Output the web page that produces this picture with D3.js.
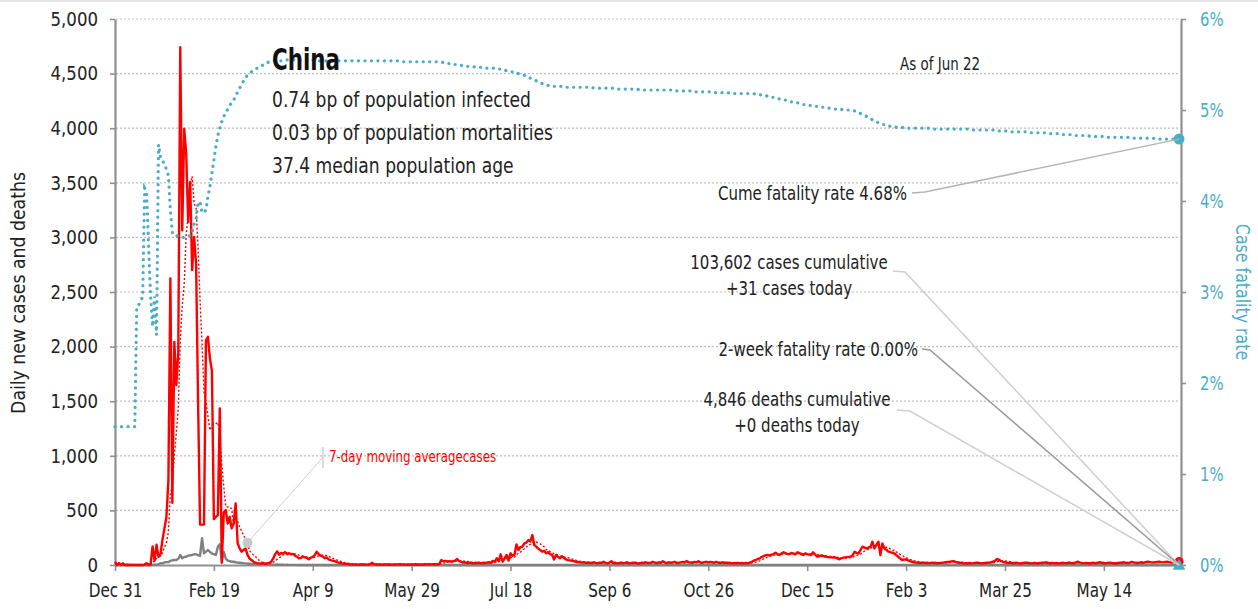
<!DOCTYPE html>
<html>
<head>
<meta charset="utf-8">
<script src="https://cdn.jsdelivr.net/npm/d3@7"></script>
<style>
  body { margin: 0; background: #fff; }
  svg { display: block; font-family: "DejaVu Sans", sans-serif; }
</style>
</head>
<body>
<svg width="1258" height="609"></svg>
<script>
// China - daily new cases / deaths and case fatality rate

var startDate = "2019-12-31";
var endDate = "2021-06-22";
var xTickDates = ["2019-12-31", "2020-02-19", "2020-04-09", "2020-05-29", "2020-07-18", "2020-09-06",
  "2020-10-26", "2020-12-15", "2021-02-03", "2021-03-25", "2021-05-14"];
var leftTicks = [0, 500, 1000, 1500, 2000, 2500, 3000, 3500, 4000, 4500, 5000];
var rightTicks = [0, 0.01, 0.02, 0.03, 0.04, 0.05, 0.06];

// daily new cases, one value per day from Dec 31 2019
var cases = [
  27, 0, 17, 0, 15, 0, 0, 0, 0, 0,
  0, 1, 0, 0, 0, 4, 17, 0, 5, 170,
  40, 185, 75, 100, 230, 335, 440, 780, 2625, 570,
  2043, 1647, 1950, 4742, 3065, 3995, 3770, 3141, 3507, 2700,
  3004, 2760, 1500, 370, 370, 370, 2058, 2090, 1890, 1780,
  420, 440, 457, 1434, 20, 480, 503, 380, 440, 335,
  380, 564, 200, 152, 122, 137, 152, 92, 61, 46,
  30, 21, 15, 15, 12, 18, 10, 15, 20, 30,
  60, 100, 125, 95, 110, 105, 118, 100, 108, 98,
  102, 85, 76, 60, 65, 78, 70, 66, 52, 68,
  75, 90, 122, 100, 85, 80, 62, 70, 52, 45,
  40, 35, 28, 22, 18, 15, 12, 10, 8, 6,
  5, 4, 6, 3, 5, 7, 4, 3, 5, 8,
  20, 8, 5, 4, 6, 3, 5, 4, 6, 5,
  3, 5, 4, 6, 8, 5, 4, 3, 5, 6,
  4, 5, 7, 5, 4, 6, 5, 8, 6, 7,
  6, 8, 7, 5, 10, 45, 35, 38, 32, 36,
  30, 34, 40, 55, 35, 30, 22, 25, 18, 20,
  22, 15, 20, 18, 22, 15, 20, 18, 22, 25,
  20, 38, 30, 62, 35, 98, 30, 60, 92, 40,
  107, 85, 95, 189, 137, 165, 168, 198, 205, 229,
  215, 274, 183, 168, 150, 137, 122, 130, 107, 118,
  100, 92, 50, 92, 75, 61, 80, 65, 52, 45,
  42, 38, 35, 30, 28, 25, 22, 25, 20, 22,
  20, 18, 25, 20, 15, 22, 18, 30, 20, 16,
  22, 35, 18, 20, 15, 18, 22, 17, 20, 25,
  15, 18, 20, 22, 16, 14, 20, 18, 25, 20,
  18, 22, 30, 20, 18, 25, 20, 35, 22, 18,
  25, 20, 22, 30, 18, 20, 24, 28, 22, 36,
  25, 22, 20, 28, 24, 35, 22, 20, 26, 30,
  22, 28, 25, 20, 30, 22, 18, 25, 20, 22,
  18, 20, 15, 18, 16, 20, 15, 18, 15, 20,
  15, 22, 30, 40, 46, 55, 61, 75, 82, 90,
  92, 88, 95, 100, 113, 98, 92, 105, 116, 108,
  100, 100, 110, 105, 98, 116, 110, 100, 92, 107,
  100, 95, 92, 116, 96, 76, 80, 85, 82, 78,
  75, 70, 72, 68, 70, 62, 52, 60, 65, 70,
  72, 74, 76, 90, 122, 110, 107, 140, 168, 160,
  152, 160, 168, 213, 152, 185, 213, 92, 198, 152,
  140, 122, 118, 112, 107, 90, 76, 60, 46, 50,
  52, 42, 35, 30, 25, 22, 20, 18, 20, 22,
  18, 20, 17, 22, 18, 20, 16, 19, 20, 22,
  25, 28, 30, 33, 36, 28, 22, 20, 18, 15,
  16, 14, 18, 15, 17, 20, 22, 18, 15, 16,
  18, 20, 22, 25, 30, 40, 55, 48, 35, 28,
  25, 20, 18, 22, 15, 18, 20, 16, 14, 18,
  20, 22, 18, 15, 17, 20, 14, 16, 18, 20,
  22, 25, 18, 16, 20, 15, 18, 14, 16, 20,
  18, 15, 22, 20, 16, 18, 25, 30, 22, 18,
  15, 20, 17, 14, 18, 20, 16, 22, 25, 20,
  18, 15, 20, 22, 18, 16, 14, 18, 20, 22,
  25, 20, 18, 22, 28, 24, 20, 18, 22, 25,
  20, 26, 30, 28, 24, 22, 25, 28, 30, 26,
  24, 28, 30, 26, 22, 25, 28, 30, 31
];

// daily new deaths
var deaths = [
  0, 0, 0, 0, 0, 0, 0, 0, 0, 0,
  0, 1, 0, 0, 0, 0, 0, 0, 1, 0,
  3, 3, 8, 16, 15, 24, 26, 26, 38, 43,
  46, 45, 57, 92, 61, 73, 76, 86, 89, 92,
  98, 97, 90, 83, 245, 107, 122, 137, 120, 105,
  100, 92, 168, 190, 40, 120, 60, 40, 35, 30,
  30, 25, 22, 20, 18, 15, 15, 12, 12, 10,
  10, 8, 8, 6, 5, 6, 4, 5, 3, 4,
  3, 3, 4, 2, 3, 2, 1, 2, 1, 1,
  1, 1, 1, 0, 1, 0, 1, 0, 0, 1,
  0, 0, 0, 0, 0, 0, 0, 0, 0, 0,
  0, 0, 0, 0, 0, 0, 0, 0, 0, 0,
  0, 0, 0, 0, 0, 0, 0, 0, 0, 0,
  0, 0, 0, 0, 0, 0, 0, 0, 0, 0,
  0, 0, 0, 0, 0, 0, 0, 0, 0, 0,
  0, 0, 0, 0, 0, 0, 0, 0, 0, 0,
  0, 0, 0, 0, 0, 0, 0, 0, 0, 0,
  0, 0, 0, 0, 0, 0, 0, 0, 0, 0,
  0, 0, 0, 0, 0, 0, 0, 0, 0, 0,
  0, 0, 0, 0, 0, 0, 0, 0, 0, 0,
  0, 0, 0, 0, 0, 0, 0, 0, 0, 0,
  0, 0, 0, 0, 0, 0, 0, 0, 0, 0,
  0, 0, 0, 0, 0, 0, 0, 0, 0, 0,
  0, 0, 0, 0, 0, 0, 0, 0, 0, 0,
  0, 0, 0, 0, 0, 0, 0, 0, 0, 0,
  0, 0, 0, 0, 0, 0, 0, 0, 0, 0,
  0, 0, 0, 0, 0, 0, 0, 0, 0, 0,
  0, 0, 0, 0, 0, 0, 0, 0, 0, 0,
  0, 0, 0, 0, 0, 0, 0, 0, 0, 0,
  0, 0, 0, 0, 0, 0, 0, 0, 0, 0,
  0, 0, 0, 0, 0, 0, 0, 0, 0, 0,
  0, 0, 0, 0, 0, 0, 0, 0, 0, 0,
  0, 0, 0, 0, 0, 0, 0, 0, 0, 0,
  0, 0, 0, 0, 0, 0, 0, 0, 0, 0,
  0, 0, 0, 0, 0, 0, 0, 0, 0, 0,
  0, 0, 0, 0, 0, 0, 0, 0, 0, 0,
  0, 0, 0, 0, 0, 0, 0, 0, 0, 0,
  0, 0, 0, 0, 0, 0, 0, 0, 0, 0,
  0, 0, 0, 0, 0, 0, 0, 0, 0, 0,
  0, 0, 0, 0, 0, 0, 0, 0, 0, 0,
  0, 0, 0, 0, 0, 0, 0, 0, 0, 0,
  0, 0, 0, 0, 0, 0, 0, 0, 0, 0,
  0, 0, 0, 0, 0, 0, 0, 0, 0, 0,
  0, 0, 0, 0, 0, 0, 0, 0, 0, 0,
  0, 0, 0, 0, 0, 0, 0, 0, 0, 0,
  0, 0, 0, 0, 0, 0, 0, 0, 0, 0,
  0, 0, 0, 0, 0, 0, 0, 0, 0, 0,
  0, 0, 0, 0, 0, 0, 0, 0, 0, 0,
  0, 0, 0, 0, 0, 0, 0, 0, 0, 0,
  0, 0, 0, 0, 0, 0, 0, 0, 0, 0,
  0, 0, 0, 0, 0, 0, 0, 0, 0, 0,
  0, 0, 0, 0, 0, 0, 0, 0, 0, 0,
  0, 0, 0, 0, 0, 0, 0, 0, 0, 0,
  0, 0, 0, 0, 0, 0, 0, 0, 0
];

// case fatality rate, percent
var cfr = [
  1.52, 1.52, 1.52, 1.52, 1.52, 1.52, 1.52, 1.52, 1.52, 1.52,
  1.52, 2.84, 2.86, 2.90, 2.95, 4.14, 4.10, 3.50, 2.95, 2.62,
  2.95, 2.53, 4.62, 4.48, 4.45, 4.40, 4.35, 4.28, 3.90, 3.65,
  3.62, 3.62, 3.61, 3.60, 3.60, 3.60, 3.60, 3.61, 3.62, 3.65,
  3.75, 3.80, 3.98, 3.99, 3.87, 3.88, 3.90, 4.05, 4.16, 4.30,
  4.45, 4.60, 4.72, 4.80, 4.87, 4.93, 4.97, 5.01, 5.05, 5.08,
  5.11, 5.15, 5.20, 5.24, 5.28, 5.32, 5.36, 5.38, 5.40, 5.42,
  5.44, 5.45, 5.46, 5.47, 5.48, 5.50, 5.51, 5.52, 5.53, 5.53,
  5.54, 5.54, 5.54, 5.54, 5.54, 5.55, 5.55, 5.55, 5.55, 5.55,
  5.55, 5.55, 5.55, 5.55, 5.55, 5.55, 5.55, 5.55, 5.55, 5.55,
  5.55, 5.55, 5.54, 5.54, 5.54, 5.54, 5.54, 5.54, 5.54, 5.54,
  5.54, 5.54, 5.54, 5.54, 5.54, 5.54, 5.54, 5.54, 5.54, 5.54,
  5.54, 5.54, 5.54, 5.54, 5.54, 5.54, 5.54, 5.54, 5.54, 5.54,
  5.54, 5.54, 5.54, 5.54, 5.54, 5.54, 5.54, 5.54, 5.54, 5.54,
  5.54, 5.54, 5.54, 5.54, 5.54, 5.53, 5.53, 5.53, 5.53, 5.53,
  5.53, 5.53, 5.53, 5.53, 5.53, 5.53, 5.53, 5.53, 5.53, 5.53,
  5.53, 5.53, 5.53, 5.53, 5.53, 5.53, 5.52, 5.52, 5.51, 5.51,
  5.51, 5.50, 5.50, 5.50, 5.49, 5.49, 5.49, 5.48, 5.48, 5.48,
  5.48, 5.48, 5.47, 5.47, 5.47, 5.47, 5.47, 5.46, 5.46, 5.46,
  5.46, 5.46, 5.46, 5.45, 5.45, 5.45, 5.44, 5.44, 5.43, 5.43,
  5.42, 5.42, 5.41, 5.41, 5.40, 5.39, 5.39, 5.38, 5.37, 5.36,
  5.35, 5.34, 5.33, 5.32, 5.31, 5.30, 5.29, 5.28, 5.28, 5.27,
  5.27, 5.27, 5.26, 5.26, 5.26, 5.26, 5.26, 5.25, 5.25, 5.25,
  5.25, 5.25, 5.25, 5.25, 5.25, 5.25, 5.25, 5.25, 5.25, 5.25,
  5.25, 5.25, 5.24, 5.24, 5.24, 5.24, 5.24, 5.24, 5.24, 5.24,
  5.24, 5.24, 5.24, 5.23, 5.23, 5.23, 5.23, 5.23, 5.23, 5.23,
  5.23, 5.23, 5.23, 5.23, 5.23, 5.22, 5.22, 5.22, 5.22, 5.22,
  5.22, 5.22, 5.22, 5.22, 5.22, 5.22, 5.22, 5.22, 5.22, 5.22,
  5.22, 5.22, 5.21, 5.21, 5.21, 5.21, 5.21, 5.21, 5.21, 5.21,
  5.21, 5.21, 5.20, 5.20, 5.20, 5.20, 5.20, 5.20, 5.20, 5.20,
  5.20, 5.20, 5.19, 5.19, 5.19, 5.19, 5.19, 5.19, 5.19, 5.19,
  5.19, 5.18, 5.18, 5.18, 5.18, 5.18, 5.18, 5.18, 5.18, 5.18,
  5.18, 5.18, 5.18, 5.18, 5.17, 5.17, 5.17, 5.16, 5.16, 5.16,
  5.15, 5.15, 5.14, 5.14, 5.13, 5.13, 5.12, 5.12, 5.11, 5.11,
  5.10, 5.10, 5.09, 5.09, 5.08, 5.08, 5.07, 5.07, 5.06, 5.06,
  5.06, 5.05, 5.05, 5.04, 5.04, 5.04, 5.03, 5.03, 5.03, 5.02,
  5.02, 5.02, 5.02, 5.01, 5.01, 5.01, 5.01, 5.01, 5.00, 5.00,
  5.00, 5.00, 5.00, 4.99, 4.99, 4.98, 4.97, 4.96, 4.95, 4.94,
  4.93, 4.92, 4.91, 4.89, 4.88, 4.87, 4.86, 4.85, 4.84, 4.84,
  4.83, 4.83, 4.82, 4.82, 4.82, 4.81, 4.81, 4.81, 4.81, 4.80,
  4.80, 4.80, 4.80, 4.80, 4.80, 4.80, 4.80, 4.80, 4.80, 4.80,
  4.80, 4.80, 4.80, 4.80, 4.79, 4.79, 4.79, 4.79, 4.79, 4.79,
  4.79, 4.79, 4.79, 4.79, 4.79, 4.79, 4.79, 4.79, 4.79, 4.79,
  4.79, 4.79, 4.78, 4.78, 4.78, 4.78, 4.78, 4.78, 4.78, 4.78,
  4.78, 4.78, 4.78, 4.78, 4.78, 4.77, 4.77, 4.77, 4.77, 4.77,
  4.77, 4.77, 4.77, 4.76, 4.76, 4.76, 4.76, 4.76, 4.76, 4.76,
  4.76, 4.76, 4.75, 4.75, 4.75, 4.75, 4.75, 4.75, 4.75, 4.75,
  4.75, 4.75, 4.74, 4.74, 4.74, 4.74, 4.74, 4.74, 4.73, 4.73,
  4.73, 4.73, 4.73, 4.73, 4.73, 4.72, 4.72, 4.72, 4.72, 4.72,
  4.72, 4.72, 4.72, 4.71, 4.71, 4.71, 4.71, 4.71, 4.71, 4.71,
  4.71, 4.71, 4.70, 4.70, 4.70, 4.70, 4.70, 4.70, 4.70, 4.70,
  4.70, 4.70, 4.70, 4.69, 4.69, 4.69, 4.69, 4.69, 4.69, 4.69,
  4.69, 4.69, 4.69, 4.69, 4.69, 4.69, 4.68, 4.68, 4.68, 4.68,
  4.68, 4.68, 4.68, 4.68, 4.68, 4.68, 4.68, 4.68, 4.68
];

var countryName = "China";
var statLines = ["0.74 bp of population infected", "0.03 bp of population mortalities", "37.4 median population age"];
var asOfLabel = "As of Jun 22";
var cumeLabel = "Cume fatality rate 4.68%";
var casesLabel = ["103,602 cases cumulative", "+31 cases today"];
var twoWeekLabel = "2-week fatality rate 0.00%";
var deathsLabel = ["4,846 deaths cumulative", "+0 deaths today"];
var twoWeekRate = 0;

var svg = d3.select("svg");
var teal = "#4bacc6", axisGrey = "#8f8f8f";

var parse = d3.utcParse("%Y-%m-%d");
var t0 = parse(startDate);
function dayDate(i) { return d3.utcDay.offset(t0, i); }

var x = d3.scaleUtc().domain([t0, parse(endDate)]).range([115, 1181]);
var y = d3.scaleLinear().domain([0, 5000]).range([565, 19]);
var yR = d3.scaleLinear().domain([0, 0.06]).range([565, 19]);

// trailing 7-day average of cases
var avg7 = cases.map(function(v, i) {
  return d3.mean(cases.slice(Math.max(0, i - 6), i + 1));
});

// squeeze text horizontally (no condensed face installed)
function squeeze(sel, f) {
  sel.each(function() {
    var len = this.getComputedTextLength();
    d3.select(this).attr("textLength", len * f).attr("lengthAdjust", "spacingAndGlyphs");
  });
}

svg.append("rect").attr("x", 0).attr("y", 0).attr("width", 1258).attr("height", 2).attr("fill", "#e6e6e6");

// gridlines
svg.append("g").selectAll("line")
  .data(leftTicks.slice(1))
  .enter().append("line")
    .attr("x1", 116).attr("x2", 1180)
    .attr("y1", function(d) { return y(d); })
    .attr("y2", function(d) { return y(d); })
    .attr("stroke", "#bdbdbd")
    .attr("stroke-width", 1.2)
    .attr("stroke-dasharray", "2,2");

// axes
var gx = svg.append("g").attr("transform", "translate(0,565)")
  .call(d3.axisBottom(x)
    .tickValues(xTickDates.map(parse))
    .tickFormat(d3.utcFormat("%b %-d"))
    .tickSize(6).tickSizeOuter(0).tickPadding(12));
var gl = svg.append("g").attr("transform", "translate(115,0)")
  .call(d3.axisLeft(y).tickValues(leftTicks).tickFormat(d3.format(","))
    .tickSize(5).tickSizeOuter(0).tickPadding(12));
var gr = svg.append("g").attr("transform", "translate(1181,0)")
  .call(d3.axisRight(yR).tickValues(rightTicks).tickFormat(d3.format(".0%"))
    .tickSize(5).tickSizeOuter(0).tickPadding(14));

[gx, gl, gr].forEach(function(g) {
  g.attr("font-family", null).attr("font-size", null);
  g.select(".domain").attr("stroke", axisGrey).attr("stroke-width", 2.2);
  g.selectAll(".tick line").attr("stroke", axisGrey).attr("stroke-width", 1.6);
  g.selectAll(".tick text").attr("font-size", 19.5).attr("fill", "#222");
});
gr.selectAll(".tick text").attr("fill", teal);
squeeze(gx.selectAll(".tick text"), 0.78);
squeeze(gl.selectAll(".tick text"), 0.85);
squeeze(gr.selectAll(".tick text"), 0.76);

squeeze(svg.append("text")
  .attr("transform", "translate(25,293) rotate(-90)")
  .attr("text-anchor", "middle")
  .attr("font-size", 20).attr("fill", "#222")
  .text("Daily new cases and deaths"), 0.865);
squeeze(svg.append("text")
  .attr("transform", "translate(1236,292) rotate(90)")
  .attr("text-anchor", "middle")
  .attr("font-size", 20).attr("fill", teal)
  .text("Case fatality rate"), 0.79);

// series
var lineCases = d3.line().x(function(d, i) { return x(dayDate(i)); }).y(function(d) { return y(d); });
var lineRate = d3.line().x(function(d, i) { return x(dayDate(i)); }).y(function(d) { return yR(d / 100); });

svg.append("path").datum(deaths)
  .attr("d", lineCases).attr("fill", "none")
  .attr("stroke", "#808080").attr("stroke-width", 2.4).attr("stroke-linejoin", "round");

svg.append("path").datum(cases)
  .attr("d", lineCases).attr("fill", "none")
  .attr("stroke", "#ff0000").attr("stroke-width", 2.4).attr("stroke-linejoin", "round");

svg.append("path").datum(avg7)
  .attr("d", lineCases).attr("fill", "none")
  .attr("stroke", "#ff0000").attr("stroke-width", 1.4).attr("stroke-dasharray", "2,2");

svg.append("path").datum(cfr)
  .attr("d", lineRate).attr("fill", "none")
  .attr("stroke", teal).attr("stroke-width", 3.2)
  .attr("stroke-linecap", "round").attr("stroke-dasharray", "0.1,6.4");

var last = cases.length - 1;
var xEnd = x(dayDate(last));

// end markers
svg.append("circle").attr("cx", xEnd).attr("cy", y(cases[last])).attr("r", 4.5).attr("fill", "#ff0000");
svg.append("path")
  .attr("d", d3.symbol().type(d3.symbolTriangle).size(70))
  .attr("transform", "translate(" + xEnd + "," + (yR(twoWeekRate) + 1) + ")")
  .attr("fill", teal);
svg.append("circle").attr("cx", xEnd).attr("cy", yR(cfr[last] / 100)).attr("r", 5.5).attr("fill", teal);

// leader lines
function leader(pts, col) {
  svg.append("polyline")
    .attr("points", pts.map(function(p) { return p.join(","); }).join(" "))
    .attr("fill", "none").attr("stroke", col).attr("stroke-width", 1.5);
}
leader([[912, 193], [925, 192], [xEnd, yR(cfr[last] / 100)]], "#b5b5b5");
leader([[893, 271], [905, 272], [xEnd, y(0)]], "#cfcfcf");
leader([[922, 349], [930, 350], [xEnd, yR(twoWeekRate)]], "#999");
leader([[897, 410], [910, 411], [xEnd, y(0)]], "#cfcfcf");

// moving-average callout
var calloutDay = 67;
var cx0 = x(dayDate(calloutDay)), cy0 = y(avg7[calloutDay]);
svg.append("line").attr("x1", cx0).attr("y1", cy0).attr("x2", 323).attr("y2", 457)
  .attr("stroke", "#cfcfcf").attr("stroke-width", 1);
svg.append("line").attr("x1", 323).attr("y1", 447).attr("x2", 323).attr("y2", 468)
  .attr("stroke", "#bbb").attr("stroke-width", 1);
svg.append("circle").attr("cx", cx0).attr("cy", cy0).attr("r", 5).attr("fill", "#c8c8c8");
squeeze(svg.append("text").attr("x", 329).attr("y", 462)
  .attr("font-size", 15).attr("fill", "#ff0000")
  .text("7-day moving averagecases"), 0.79);

// title block
svg.append("text").attr("x", 272).attr("y", 70)
  .attr("font-size", 31).attr("font-weight", "bold").attr("fill", "#111")
  .attr("textLength", 68).attr("lengthAdjust", "spacingAndGlyphs")
  .text(countryName);
squeeze(svg.append("g").selectAll("text")
  .data(statLines)
  .enter().append("text")
    .attr("x", 272)
    .attr("y", function(d, i) { return 107 + i * 33; })
    .attr("font-size", 21).attr("fill", "#222")
    .text(function(d) { return d; }), 0.815);

squeeze(svg.append("text").attr("x", 900).attr("y", 70).attr("font-size", 17).attr("fill", "#222").text(asOfLabel), 0.79);

// right-hand annotations
var notes = svg.append("g");
notes.append("text").attr("x", 907).attr("y", 200).attr("text-anchor", "end")
  .attr("font-size", 19).attr("fill", "#222").text(cumeLabel);
notes.append("text").attr("x", 918).attr("y", 356).attr("text-anchor", "end")
  .attr("font-size", 19).attr("fill", "#222").text(twoWeekLabel);
casesLabel.forEach(function(s, i) {
  notes.append("text").attr("x", 789).attr("y", 269 + i * 26).attr("text-anchor", "middle")
    .attr("font-size", 19).attr("fill", "#222").text(s);
});
deathsLabel.forEach(function(s, i) {
  notes.append("text").attr("x", 797).attr("y", 406 + i * 26).attr("text-anchor", "middle")
    .attr("font-size", 19).attr("fill", "#222").text(s);
});
squeeze(notes.selectAll("text"), 0.79);
</script>
</body>
</html>
